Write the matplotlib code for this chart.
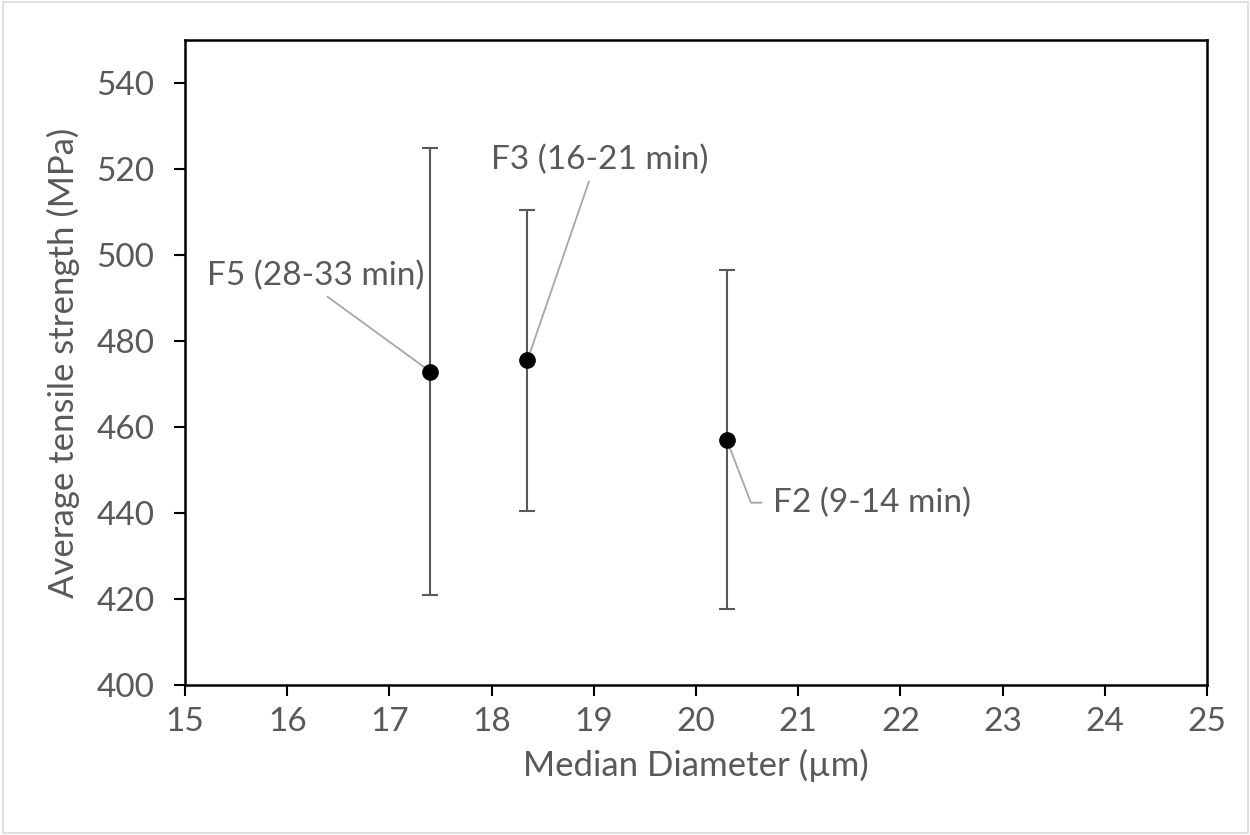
import matplotlib.pyplot as plt
from matplotlib.patches import Rectangle

plt.rcParams['font.family'] = ['Lato', 'DejaVu Sans']

# median diameter (um) and average tensile strength (MPa) with std dev
diameter = [17.4, 18.35, 20.3]
strength = [472.9, 475.5, 457.1]
err = [52.0, 35.0, 39.5]
labels = ['F5 (28-33 min)', 'F3 (16-21 min)', 'F2 (9-14 min)']

grey = '#595959'
fs = 24

fig = plt.figure(figsize=(12.5, 8.35), dpi=100)
ax = fig.add_axes([0.148, 0.1796, 0.8176, 0.7724])

ax.errorbar(diameter, strength, yerr=err, fmt='o', color='black',
            markersize=11, ecolor=grey, elinewidth=1.5, capsize=6,
            capthick=1.5, zorder=3)

ax.set_xlim(15, 25)
ax.set_ylim(400, 550)
ax.set_xticks(range(15, 26))
ax.set_yticks(range(400, 541, 20))
ax.tick_params(direction='out', length=8, width=1.5, colors='black',
               labelcolor=grey, labelsize=fs)
ax.tick_params(axis='x', pad=8)
ax.tick_params(axis='y', pad=14)
for s in ax.spines.values():
    s.set_linewidth(1.8)
    s.set_color('black')

ax.set_xlabel('Median Diameter (µm)', fontsize=fs + 1, color=grey, labelpad=8)
ax.set_ylabel('Average tensile strength (MPa)', fontsize=fs + 1, color=grey,
              labelpad=12)

line = dict(arrowstyle='-', color='#A6A6A6', lw=1.3, shrinkA=3, shrinkB=0)

ax.annotate(labels[0], xy=(diameter[0], strength[0]), xytext=(16.28, 495.1),
            ha='center', va='center', fontsize=fs, color=grey,
            arrowprops=dict(line, relpos=(0.52, 0.0)))
ax.annotate(labels[1], xy=(diameter[1], strength[1]), xytext=(19.06, 522.2),
            ha='center', va='center', fontsize=fs, color=grey,
            arrowprops=dict(line, relpos=(0.46, 0.0)))
ax.annotate(labels[2], xy=(diameter[2], strength[2]), xytext=(20.75, 442.4),
            ha='left', va='center', fontsize=fs, color=grey,
            arrowprops=dict(line, relpos=(0.0, 0.5), shrinkA=6,
                            connectionstyle='angle,angleA=0,angleB=111,rad=0'))

fig.patches.append(Rectangle((0.002, 0.002), 0.996, 0.996, transform=fig.transFigure,
                             fill=False, edgecolor='#D9D9D9', lw=1.2))

fig.savefig('out.png', dpi=100)
